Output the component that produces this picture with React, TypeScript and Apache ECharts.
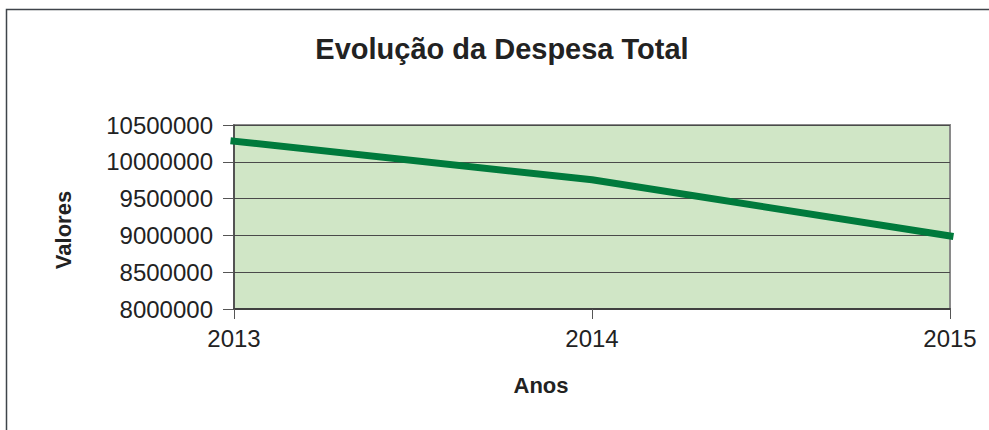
import React, { useEffect, useRef } from "react";
import * as echarts from "echarts";

const categories = ["2013", "2014", "2015"];
const despesaTotal = [10280000, 9755000, 8992000];
const yMin = 8000000;
const yMax = 10500000;
const yInterval = 500000;

const titleText = "Evolução da Despesa Total";
const xName = "Anos";
const yName = "Valores";

const FONT = "'Liberation Sans', Arial, sans-serif";

export default function App() {
  const ref = useRef<HTMLDivElement>(null);
  useEffect(() => {
    if (!ref.current) return;
    const chart = echarts.init(ref.current, undefined, { renderer: "svg" });
    chart.setOption({
      animation: false,
      backgroundColor: "#ffffff",
      title: {
        text: titleText,
        left: 497,
        textAlign: "center",
        top: 29,
        textStyle: { fontFamily: FONT, fontSize: 29, fontWeight: "bold", color: "#222" },
      },
      grid: {
        left: 234,
        right: 39,
        top: 125,
        bottom: 121,
        show: true,
        backgroundColor: "#D0E6C6",
        borderColor: "#8a8a8a",
        borderWidth: 2,
      },
      xAxis: {
        type: "category",
        data: categories,
        boundaryGap: false,
        axisLine: { show: true, lineStyle: { color: "#404040", width: 2 } },
        axisTick: { show: true, length: 10, lineStyle: { color: "#555", width: 1 } },
        axisLabel: { fontFamily: FONT, fontSize: 24, color: "#222", margin: 17 },
        splitLine: { show: false },
      },
      yAxis: {
        type: "value",
        min: yMin,
        max: yMax,
        interval: yInterval,
        axisLine: { show: true, lineStyle: { color: "#404040", width: 1.5 } },
        axisTick: { show: true, length: 11, lineStyle: { color: "#555", width: 1 } },
        axisLabel: {
          fontFamily: FONT,
          fontSize: 24,
          color: "#222",
          margin: 21,
          formatter: (v: number) => String(v),
        },
        splitLine: { show: true, lineStyle: { color: "#4a4a4a", width: 1 } },
      },
      series: [
        {
          type: "line",
          data: despesaTotal,
          showSymbol: false,
          symbol: "none",
          lineStyle: { color: "#007A3C", width: 7, cap: "square" },
        },
      ],
      graphic: [
        {
          type: "rect",
          shape: { x: 6.5, y: 9.5, width: 1100, height: 600 },
          style: { fill: "none", stroke: "#3f444a", lineWidth: 1.5 },
          silent: true,
        },
        {
          type: "text",
          x: 63,
          y: 230,
          rotation: Math.PI / 2,
          style: {
            text: yName,
            fontFamily: FONT,
            fontSize: 22,
            fontWeight: "bold",
            fill: "#222",
            textAlign: "center",
            textVerticalAlign: "middle",
          },
        },
        {
          type: "text",
          x: 541,
          y: 385,
          style: {
            text: xName,
            fontFamily: FONT,
            fontSize: 22,
            fontWeight: "bold",
            fill: "#222",
            textAlign: "center",
            textVerticalAlign: "middle",
          },
        },
      ],
    });
    return () => chart.dispose();
  }, []);
  return (
    <div
      ref={ref}
      style={{ position: "absolute", left: 0, top: 0, width: 989, height: 430 }}
    />
  );
}
